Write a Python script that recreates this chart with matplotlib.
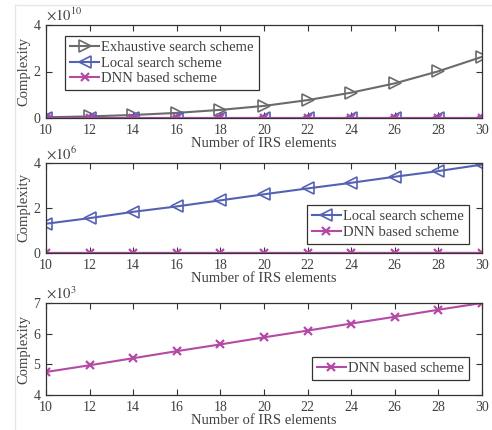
import matplotlib.pyplot as plt
from matplotlib.lines import Line2D
import numpy as np

plt.rcParams['font.family'] = ['Liberation Serif', 'DejaVu Serif']
plt.rcParams['mathtext.fontset'] = 'stix'

# IRS elements
N = [10, 12, 14, 16, 18, 20, 22, 24, 26, 28, 30]

# complexity
exhaustive = np.array([0.03, 0.07, 0.13, 0.22, 0.35, 0.52, 0.77, 1.09, 1.49, 2.01, 2.63]) * 1e10
local = np.array([1.30, 1.55, 1.83, 2.07, 2.34, 2.61, 2.87, 3.12, 3.39, 3.64, 3.93]) * 1e6
dnn = [4750, 4970, 5200, 5430, 5650, 5880, 6100, 6330, 6550, 6780, 7000]

c_ex = '#6b6b6b'
c_loc = '#5562b4'
c_dnn = '#b54aa6'
txt = '#404040'

fig = plt.figure(figsize=(4.92, 4.30), dpi=100)
W, H = 492, 430

def add_ax(left, top, right, bottom):
    return fig.add_axes([left / W, 1 - bottom / H, (right - left) / W, (bottom - top) / H])

ax1 = add_ax(46, 25, 482, 118)
ax2 = add_ax(46, 163, 482, 253)
ax3 = add_ax(46, 303, 482, 395)

ax1.plot(N, exhaustive, color=c_ex, lw=1.5, marker='>', ms=8, mfc='none', mew=1.2,
         label='Exhaustive search scheme')
ax1.plot(N, local, color=c_loc, lw=1.5, marker='<', ms=8, mfc='none', mew=1.2,
         label='Local search scheme')
ax1.plot(N, dnn, color=c_dnn, lw=1.5, marker='x', ms=5.5, mew=1.6, label='DNN based scheme')
ax1.set_ylim(0, 4e10)
ax1.set_yticks([0, 2e10, 4e10])

ax2.plot(N, local, color=c_loc, lw=1.5, marker='<', ms=8, mfc='none', mew=1.2,
         label='Local search scheme')
ax2.plot(N, dnn, color=c_dnn, lw=1.5, marker='x', ms=5.5, mew=1.6, label='DNN based scheme')
ax2.set_ylim(0, 4e6)
ax2.set_yticks([0, 2e6, 4e6])

ax3.plot(N, dnn, color=c_dnn, lw=1.5, marker='x', ms=5.5, mew=1.6, label='DNN based scheme')
ax3.set_ylim(4000, 7000)
ax3.set_yticks([4000, 5000, 6000, 7000])

exps = ['10', '6', '3']
for ax, e in zip([ax1, ax2, ax3], exps):
    ax.set_xlim(10, 30)
    ax.set_xticks(N)
    ax.tick_params(direction='in', top=True, right=True, length=4, width=0.8,
                   labelsize=10, colors='#333333', labelcolor=txt, pad=4)
    for s in ax.spines.values():
        s.set_color('#333333')
        s.set_linewidth(0.9)
    ax.set_xlabel('Number of IRS elements', fontsize=10.5, color=txt, labelpad=0)
    ax.set_ylabel('Complexity', fontsize=10.5, color=txt, labelpad=2)
    ax.yaxis.get_offset_text().set_visible(False)
    ax.text(0.0, 1.01, r'$\times10^{%s}$' % e, transform=ax.transAxes, fontsize=10.5,
            color=txt, ha='left', va='bottom')
    ax.set_yticklabels([('%g' % (v / 10 ** int(e))) for v in ax.get_yticks()])

leg_kw = dict(fontsize=10.5, frameon=True, fancybox=False, edgecolor='#333333',
              framealpha=1, borderpad=0.35, labelspacing=0.15, handlelength=2.0,
              handletextpad=0.15, borderaxespad=0)
l1 = ax1.legend(loc='upper left', bbox_to_anchor=((65 - 46) / 436, 1 - (36 - 25) / 93), **leg_kw)
l2 = ax2.legend(loc='lower right', bbox_to_anchor=((469 - 46) / 436, (253 - 244) / 90),
                **leg_kw)
l3 = ax3.legend(loc='lower right', bbox_to_anchor=((469 - 46) / 436, (395 - 380) / 92),
                **leg_kw)
for l in (l1, l2, l3):
    l.get_frame().set_linewidth(0.9)
    for t in l.get_texts():
        t.set_color(txt)

# faint frame around the figure
fig.add_artist(Line2D([15 / W, 15 / W], [0, 1 - 5 / H], color='#e6e6e6', lw=1))
fig.add_artist(Line2D([15 / W, 1], [1 - 5 / H, 1 - 5 / H], color='#e6e6e6', lw=1))

fig.savefig('out.png', dpi=100)
